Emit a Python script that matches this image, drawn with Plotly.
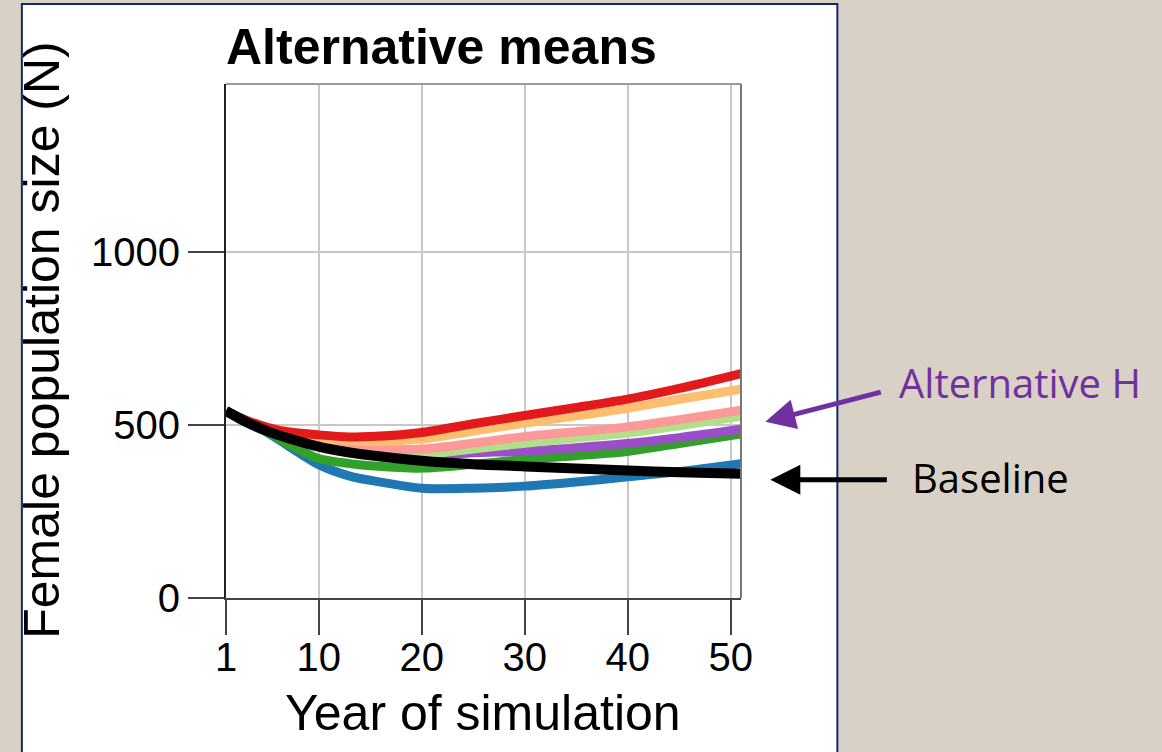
import plotly.graph_objects as go

years = [1, 3, 5, 7, 10, 13, 15, 20, 25, 30, 35, 40, 45, 51]

blue = [540, 505, 478, 440, 385, 352, 340, 317, 317, 323, 335, 350, 365, 388]
green = [540, 508, 480, 445, 403, 388, 382, 375, 386, 400, 411, 423, 446, 474]
purple = [540, 510, 486, 465, 440, 425, 418, 411, 419, 424, 434, 446, 463, 487]
light_green = [540, 510, 487, 466, 443, 429, 421, 415, 430, 447, 462, 476, 497, 525]
pink = [540, 511, 488, 468, 446, 435, 430, 430, 447, 466, 480, 494, 515, 542]
orange = [540, 512, 492, 475, 462, 455, 452, 459, 482, 505, 526, 548, 574, 603]
red = [540, 513, 493, 480, 471, 465, 466, 478, 503, 527, 550, 574, 605, 648]
baseline = [540, 508, 482, 462, 437, 420, 412, 396, 386, 380, 374, 368, 363, 359]

series = [
    ("blue", blue, "#1f78b4", 9),
    ("green", green, "#33a02c", 9),
    ("purple", purple, "#9a4fc8", 9),
    ("light green", light_green, "#b2df8a", 9),
    ("pink", pink, "#fb9a99", 9),
    ("orange", orange, "#fdbf6f", 9),
    ("red", red, "#e31a1c", 9),
    ("Baseline", baseline, "#000000", 10),
]

x_ticks = [1, 10, 20, 30, 40, 50]
y_ticks = [0, 500, 1000]

fig = go.Figure()
for name, vals, col, w in series:
    fig.add_trace(go.Scatter(x=years, y=vals, mode="lines", name=name,
                             line=dict(color=col, width=w, shape="spline", smoothing=0.8),
                             showlegend=False))

L, R, T, B = 226, 740.7, 84, 598.3
W, H = R - L, B - T


def px(xp):
    return (xp - L) / W


def py(yp):
    return (B - yp) / H


BG = "#d9d1c6"
font_main = "Liberation Sans, Arial, sans-serif"
fig.update_layout(
    width=1162, height=752,
    margin=dict(l=L, r=1162 - R, t=T, b=752 - B, pad=0),
    paper_bgcolor=BG,
    plot_bgcolor="white",
    font=dict(family=font_main, color="black", size=40),
    xaxis=dict(range=[1, 51], tickvals=x_ticks, ticktext=[str(v) for v in x_ticks],
               showgrid=True, gridcolor="#c8c8c8", gridwidth=2,
               showline=True, linecolor="#444444", linewidth=2,
               ticks="outside", ticklen=35, tickwidth=2, tickcolor="#444444",
               ticklabelstandoff=-12,
               tickfont=dict(size=40, family=font_main, color="black"),
               zeroline=False, fixedrange=True),
    yaxis=dict(range=[0, 1484], tickvals=y_ticks, ticktext=[str(v) for v in y_ticks],
               showgrid=True, gridcolor="#c8c8c8", gridwidth=2,
               showline=True, linecolor="#222222", linewidth=2,
               ticks="outside", ticklen=36, tickwidth=2, tickcolor="#444444",
               tickfont=dict(size=40, family=font_main, color="black"),
               zeroline=False, fixedrange=True),
    shapes=[
        dict(type="rect", xref="paper", yref="paper", layer="below",
             x0=px(22), x1=px(837), y0=py(770), y1=py(4),
             fillcolor="white", line=dict(color="#0c2b6e", width=2)),
        dict(type="line", xref="paper", yref="paper", x0=0, x1=1, y0=1, y1=1,
             line=dict(color="#9a9a9a", width=2)),
        dict(type="line", xref="paper", yref="paper", x0=1, x1=1, y0=0, y1=1,
             line=dict(color="#777777", width=2)),
    ],
    annotations=[
        dict(text="<b>Alternative means</b>", xref="paper", yref="paper",
             x=px(224), y=py(47), xanchor="left", yanchor="middle", showarrow=False,
             font=dict(size=50, family=font_main, color="black")),
        dict(text="Year of simulation", xref="paper", yref="paper",
             x=px(483), y=py(713), xanchor="center", yanchor="middle", showarrow=False,
             font=dict(size=50, family=font_main, color="black")),
        dict(text="Female population size (N)", xref="paper", yref="paper",
             x=px(42), y=py(340), xanchor="center", yanchor="middle", showarrow=False,
             textangle=-90, font=dict(size=50, family=font_main, color="black")),
        dict(text="", xref="paper", yref="paper", x=px(765), y=py(422),
             ax=117, ay=-30, showarrow=True, arrowhead=2, arrowsize=1.2,
             arrowwidth=5, arrowcolor="#7030a0"),
        dict(text="", xref="paper", yref="paper", x=px(770), y=py(480),
             ax=118, ay=0, showarrow=True, arrowhead=2, arrowsize=1.2,
             arrowwidth=5, arrowcolor="#000000"),
        dict(text="Alternative H", xref="paper", yref="paper",
             x=px(897), y=py(383), xanchor="left", yanchor="middle", showarrow=False,
             font=dict(size=40, family="Open Sans, sans-serif", color="#7030a0")),
        dict(text="Baseline", xref="paper", yref="paper",
             x=px(910), y=py(478), xanchor="left", yanchor="middle", showarrow=False,
             font=dict(size=40, family="Open Sans, sans-serif", color="black")),
    ],
)

fig.write_html("out.html", config={"displayModeBar": False},
               post_script="document.body.style.margin='0px';"
                           "document.body.style.background='" + BG + "';"
                           "document.body.style.overflow='hidden';")
